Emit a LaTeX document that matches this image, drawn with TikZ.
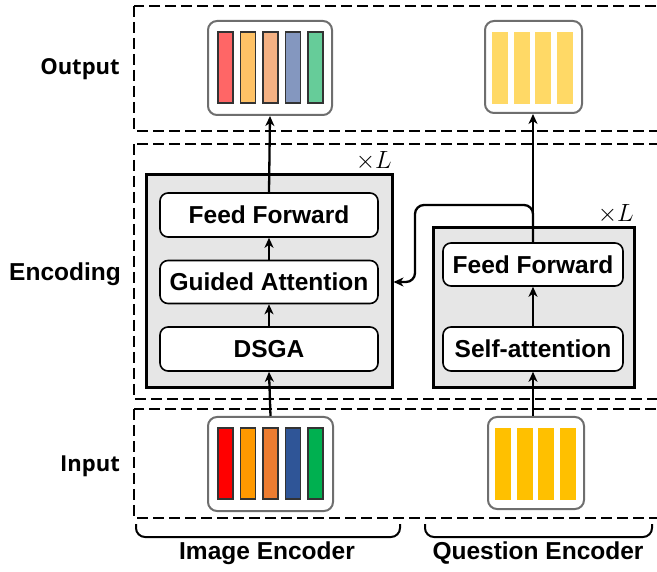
\documentclass[tikz,border=0pt]{standalone}
\usepackage{fontspec}
\setmainfont{Liberation Sans}
\newfontfamily\labfont{Open Sans}
\usetikzlibrary{arrows.meta}

\definecolor{encgray}{HTML}{E6E6E6}
\definecolor{framegray}{HTML}{6E6E6E}
\definecolor{barline}{HTML}{333333}

\tikzset{
  txt/.style={font=\fontsize{24.5}{26}\selectfont\bfseries},
  sidelab/.style={font=\labfont\fontsize{22}{24}\selectfont\bfseries},
  region/.style={draw=black, line width=1.5pt, dash pattern=on 11pt off 5pt},
  encbox/.style={draw=black, line width=3pt, fill=encgray},
  layerbox/.style={draw=black, line width=1.6pt, fill=white, rounded corners=8pt, txt, inner sep=0pt},
  featbox/.style={draw=framegray, line width=2pt, fill=white, rounded corners=9pt, inner sep=0pt},
  bar/.style={draw=barline, line width=1.5pt},
  flow/.style={draw=black, line width=2.3pt, -{Stealth[length=10pt,width=9pt,inset=3pt]}},
  brace/.style={line width=2pt, rounded corners=9pt},
}

\begin{document}
\begin{tikzpicture}[x=1pt,y=-1pt]
\useasboundingbox (0,0) rectangle (657,572);
\clip (0,0) rectangle (657,572);

% dashed region frames
\draw[region] (134,6) rectangle (670,131);
\draw[region] (134,144) rectangle (670,399);
\draw[region] (134,409) rectangle (670,518);

% region labels
\node[sidelab] (lout) at (80,69) {Output};
\node[txt] (lenc) at (65,274) {Encoding};
\node[sidelab] (lin) at (90,466) {Input};

% encoder stacks
\node[encbox, minimum width=246pt, minimum height=213pt] (encL) at (269,281.5) {};
\node[encbox, minimum width=201pt, minimum height=160pt] (encR) at (533.5,308) {};
\node[font=\fontsize{24}{26}\selectfont, anchor=south east, inner sep=0pt] (repL) at (392,171) {$\times L$};
\node[font=\fontsize{24}{26}\selectfont, anchor=south east, inner sep=0pt] (repR) at (634,224) {$\times L$};

\node[layerbox, minimum width=218pt, minimum height=44pt] (ffL) at (269,215) {Feed Forward};
\node[layerbox, minimum width=218pt, minimum height=43pt] (gaL) at (269,282) {Guided Attention};
\node[layerbox, minimum width=218pt, minimum height=44pt] (dsga) at (269,349) {DSGA};
\node[layerbox, minimum width=180pt, minimum height=43pt] (ffR) at (533,264.5) {Feed Forward};
\node[layerbox, minimum width=180pt, minimum height=44pt] (sa) at (533,349) {Self-attention};

% feature containers
\node[featbox, minimum width=124pt, minimum height=94pt] (outImg) at (270,68) {};
\node[featbox, minimum width=97pt, minimum height=92pt] (outQ) at (533.5,67) {};
\node[featbox, minimum width=125pt, minimum height=94pt] (inImg) at (270.5,464) {};
\node[featbox, minimum width=96pt, minimum height=92pt] (inQ) at (536,463) {};

% output image features
\foreach \i/\c in {0/FF6666,1/FFC266,2/F4B183,3/8497BF,4/66CC99}{
  \definecolor{tmpc}{HTML}{\c}
  \draw[bar, fill=tmpc] (218+22.5*\i,32) rectangle ++(15,71);
}
% output question features
\foreach \i in {0,1,2,3}{
  \fill[fill={rgb,255:red,255;green,217;blue,102}] (492+21.7*\i,32) rectangle ++(16,72);
}
% input image features
\foreach \i/\c in {0/FF0000,1/FF9900,2/ED7D31,3/2F5597,4/00B050}{
  \definecolor{tmpc}{HTML}{\c}
  \draw[bar, fill=tmpc] (218+22.5*\i,428) rectangle ++(15,71);
}
% input question features
\foreach \i in {0,1,2,3}{
  \fill[fill={rgb,255:red,255;green,192;blue,0}] (495+21.7*\i,428) rectangle ++(16,72);
}

% image branch
\draw[flow] (inImg.north) -- (dsga.south);
\draw[flow] (dsga.north) -- (gaL.south);
\draw[flow] (gaL.north) -- (ffL.south);
\draw[flow] (ffL.north) -- (outImg.south);

% question branch
\draw[flow] (inQ.north -| sa.south) -- (sa.south);
\draw[flow] (sa.north) -- (ffR.south);
\draw[flow] (ffR.north) -- (outQ.south -| ffR.north);

% question features guide the image attention
\coordinate (bend) at (533,205);
\draw[flow, rounded corners=9pt] (ffR.north) -- (bend) -| (415,282) -- (encL.east |- gaL.east);

% encoder braces
\draw[brace] (136,524) |- (400,537) -- (400,524);
\draw[brace] (425,524) |- (652,537) -- (652,524);
\node[txt] (cImg) at (267,553) {Image Encoder};
\node[txt] (cQ) at (538,553) {Question Encoder};
\end{tikzpicture}
\end{document}
